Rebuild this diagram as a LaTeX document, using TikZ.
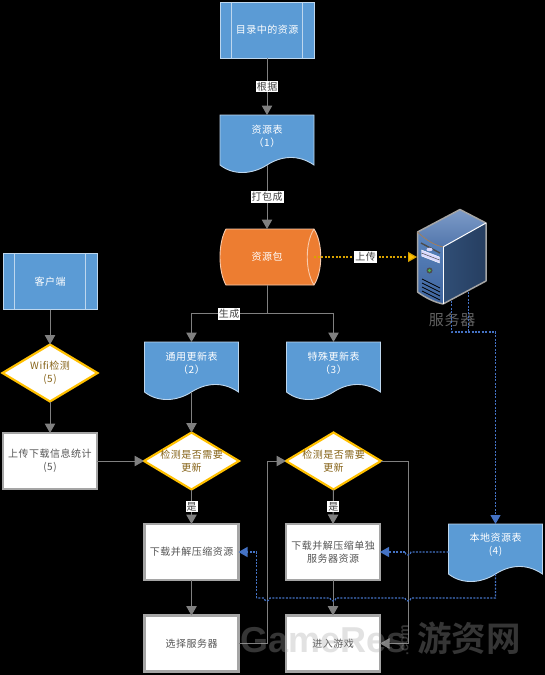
\documentclass[tikz,border=0pt]{standalone}
\usepackage{fontspec}
\setmainfont[LetterSpace=5]{Noto Sans CJK SC}
\newfontfamily\wmcjk{Noto Sans CJK SC Bold}
\newfontfamily\wmlat{Liberation Sans}
\usetikzlibrary{arrows.meta,calc}
\definecolor{fblue}{RGB}{91,155,213}
\definecolor{eblue}{RGB}{190,215,238}
\definecolor{forange}{RGB}{237,125,49}
\definecolor{eorange}{RGB}{248,203,173}
\definecolor{gold}{RGB}{255,192,0}
\definecolor{boxgray}{RGB}{165,165,165}
\definecolor{wire}{RGB}{128,128,128}
\definecolor{dblue}{RGB}{68,114,196}
\definecolor{txtbrown}{RGB}{135,100,25}
\definecolor{txtgray}{RGB}{85,85,85}
\definecolor{srvsideL}{RGB}{48,78,118}
\definecolor{srvsideR}{RGB}{38,62,96}
\definecolor{srvfrontT}{RGB}{92,134,190}
\definecolor{srvfrontB}{RGB}{62,100,158}
\definecolor{srvtopA}{RGB}{125,155,200}
\definecolor{srvtopB}{RGB}{82,118,172}
\tikzset{
  base/.style={inner sep=0pt,outer sep=0pt,align=center,font=\fontsize{10}{13}\selectfont},
  procbox/.style={base,minimum width=94pt,minimum height=56pt,fill=fblue,draw=eblue,line width=0.9pt,text=white},
  whitebox/.style={base,minimum width=94pt,minimum height=56pt,fill=white,draw=boxgray,line width=2.2pt,text=txtgray},
  ghost/.style={base,minimum width=94pt,minimum height=50pt},
  txtw/.style={base,text=white},
  shapefill/.style={fill=fblue,draw=eblue,line width=0.9pt},
  decision/.style={fill=white,draw=gold,line width=2.2pt,line join=miter},
  edgelabel/.style={base,fill=white,text=black!75,inner xsep=1pt,inner ysep=1pt},
  flow/.style={draw=wire,line width=1pt,-{Triangle[length=9.5pt,width=10.5pt,fill=wire]}},
  flowplain/.style={draw=wire,line width=1pt},
  blueflow/.style={draw=dblue,line width=1.2pt,dash pattern=on 2pt off 1.4pt,-{Triangle[length=9pt,width=10pt,fill=dblue]}},
  blueplain/.style={draw=dblue,line width=1.2pt,dash pattern=on 2pt off 1.4pt},
  orangeflow/.style={draw=gold!85!black,line width=1.2pt,dash pattern=on 2pt off 1.6pt,-{Triangle[length=9pt,width=10pt,fill=gold]}},
}
% process with side bars: name, centre x, centre y, text
\newcommand{\sidebox}[4]{%
  \node[procbox] (#1) at (#2,#3) {#4};
  \draw[eblue,line width=0.9pt] ($(#1.north west)+(11.5,0)$) -- ($(#1.south west)+(11.5,0)$);
  \draw[eblue,line width=0.9pt] ($(#1.north east)+(-11.5,0)$) -- ($(#1.south east)+(-11.5,0)$);
}
% document shape: name, centre x, top y, text
\newcommand{\docshape}[4]{%
  \node[ghost] (#1) at (#2,#3+25) {};
  \path[shapefill] (#1.north west) -- (#1.north east) -- (#1.south east)
    .. controls +(-16,-11) and +(14,-9) .. (#1.south)
    .. controls +(-14,9) and +(14,11) .. (#1.south west) -- cycle;
  \node[txtw] (#1-t) at ($(#1.center)+(0,-4)$) {#4};
}
% decision: name, centre x, centre y, text
\newcommand{\decisionnode}[4]{%
  \node[base,minimum width=95pt,minimum height=57pt] (#1) at (#2,#3) {};
  \path[decision] (#1.north) -- (#1.east) -- (#1.south) -- (#1.west) -- cycle;
  \node[base,text=txtbrown] (#1-t) at (#2,#3) {#4};
}
\begin{document}
\begin{tikzpicture}[x=1pt,y=-1pt]
\useasboundingbox (0,0) rectangle (545,675);
\fill[black] (0,0) rectangle (545,675);

% shapes
\sidebox{res}{267}{30}{目录中的资源}
\docshape{tbl}{267}{115}{资源表\\（1）}
\node[base,minimum width=94pt,minimum height=56pt] (pkg) at (267,257) {};
\path[fill=forange,draw=eorange,line width=0.9pt]
  ($(pkg.north west)+(6,0)$) -- (pkg.north east)
  .. controls +(9,14) and +(9,-14) .. (pkg.south east)
  -- ($(pkg.south west)+(6,0)$)
  .. controls +(-8,-14) and +(-8,14) .. ($(pkg.north west)+(6,0)$) -- cycle;
\draw[eorange,line width=0.9pt] (pkg.north east) .. controls +(-9,14) and +(-9,-14) .. (pkg.south east);
\node[txtw] (pkg-t) at (pkg.center) {资源包};

\sidebox{cli}{50}{281.5}{客户端}
\decisionnode{wifi}{50}{373}{Wifi检测\\(5)}
\node[whitebox] (up) at (50,461) {上传下载信息统计\\(5)};

\docshape{gen}{191.5}{342}{通用更新表\\（2）}
\docshape{spe}{333.5}{342}{特殊更新表\\（3）}
\decisionnode{chk}{191.5}{461}{检测是否需要\\更新}
\decisionnode{chs}{333.5}{461}{检测是否需要\\更新}
\node[whitebox] (dl) at (191.5,552) {下载并解压缩资源};
\node[whitebox] (ds) at (333,552) {下载并解压缩单独\\服务器资源};
\node[whitebox] (sel) at (191.5,643.5) {选择服务器};
\node[whitebox] (go) at (333,643.5) {进入游戏};
\docshape{loc}{495.5}{524}{本地资源表\\(4)}

% server
\node[base,minimum width=70pt,minimum height=96pt] (srv) at (452,257) {};
\shade[left color=srvsideL,right color=srvsideR]
  (443,247) -- (486,223) -- (486,281) -- (443,304) -- cycle;
\shade[top color=srvfrontT,bottom color=srvfrontB] (417.5,232) .. controls (426,240) and (434,245) .. (443,247)
  -- (443,304) .. controls (434,302) and (426,298) .. (417.5,292) -- cycle;
\shade[top color=srvtopA,bottom color=srvtopB] (460,209.5) -- (486,223) -- (443,247) .. controls (434,245) and (426,240) .. (417.5,232) -- cycle;
\draw[boxgray,line width=1.5pt,line join=round] (460,209.5) -- (486,223) -- (486,281) -- (443,304)
  .. controls (434,302) and (426,298) .. (417.5,292) -- (417.5,232) -- cycle;
\draw[white,line width=1pt] (443,247) -- (486,223);
\draw[white,line width=1pt] (443,247) -- (443,304);
\draw[brown!70!gray,line width=0.7pt] (417.5,232) .. controls (426,240) and (434,245) .. (443,247);
\draw[black!70,line width=1.4pt] (421,243) -- (440,253);
\fill[white!85!blue] (429.5,249.5) ellipse (3pt and 1.8pt);
\draw[white,fill=white!85!blue,line width=0.4pt] (421.5,250) -- (439.5,257) -- (439.5,263) -- (421.5,256) -- cycle;
\draw[black!70,line width=0.5pt] (421.5,253) -- (439.5,260);
\fill[black!70] (429.5,270.5) circle (3pt);
\fill[green!40!gray] (429.5,270.5) circle (1.6pt);
\foreach \d in {0,1,2,3}{
  \draw[black,line width=0.8pt] (422,{279+\d*4}) -- (440,{288+\d*4});
}
\node[base,font=\fontsize{15}{18}\selectfont,text=black!62] (srv-t) at (452,320) {服务器};

% connectors
\draw[flow] (res) -- node[edgelabel] (l1) {根据} (tbl);
\draw[flow] (tbl.south) -- node[edgelabel] (l2) {打包成} (pkg);
\coordinate (busL) at (191.5,313);
\coordinate (busR) at (333.5,313);
\draw[flowplain] (pkg.south) -- ($(pkg.south)+(0,28)$);
\draw[flow] ($(pkg.south)+(0,28)$) -- (busL) -- (gen.north);
\draw[flow] ($(pkg.south)+(0,28)$) -- (busR) -- (spe.north);
\node[edgelabel] (l3) at (229,314) {生成};
\draw[flow] (cli) -- (wifi.north);
\draw[flow] (wifi.south) -- (up.north);
\draw[flow] (up) -- (chk.west);
\draw[flow] (gen.south) -- (chk.north);
\draw[flow] (chk.south) -- node[edgelabel] (l4) {是} (dl.north);
\draw[flow] (chs.south) -- node[edgelabel] (l5) {是} (ds.north);
\draw[flow] (dl) -- (sel);
\draw[flow] (ds) -- (go);
\coordinate (a1) at (267,643.5);
\coordinate (a2) at (267,461);
\draw[flowplain] (sel.east) -- (a1) -- (a2) -- ($(chs.west)+(-5,0)$);
\draw[flow] ($(chs.west)+(-5,0)$) -- (chs.west);
\coordinate (b1) at (408,461);
\coordinate (b2) at (408,643.5);
\draw[flow] (chs.east) -- (b1) -- (b2) -- (go.east);

\draw[orangeflow] (pkg.east) -- node[edgelabel] (l6) {上传} (srv.west);

% blue dotted
\coordinate (s1) at (451.5,301);
\coordinate (s2) at (468.5,292);
\coordinate (s3) at (451.5,332);
\coordinate (s4) at (468.5,332);
\coordinate (s5) at (495.5,332);
\draw[blueplain] (s2) -- (s4);
\draw[blueflow] (s1) -- (s3) -- (s5) -- (loc.north);
\coordinate (h1r) at (411,552);
\coordinate (h1l) at (405,552);
\draw[blueplain] (loc.west |- h1r) -- (h1r) arc[start angle=0,end angle=-180,radius=3pt];
\draw[blueflow] (h1l) -- (ds.east);
\coordinate (c1) at (495.5,598);
\coordinate (c2) at (411,598);
\coordinate (c4) at (336,598);
\coordinate (c6) at (270,598);
\coordinate (c8) at (256.5,598);
\coordinate (c9) at (256.5,552);
\draw[blueplain] (loc.south) -- (c1) -- (c2) arc[start angle=0,end angle=-180,radius=3pt]
  -- (c4) arc[start angle=0,end angle=-180,radius=3pt]
  -- (c6) arc[start angle=0,end angle=-180,radius=3pt] -- (c8);
\draw[blueflow] (c8) -- (c9) -- (dl.east);

% watermark
\node[base,anchor=west,font=\wmlat\bfseries\fontsize{36}{36}\selectfont,text=boxgray,opacity=0.32] (wm1) at (240,640) {GameRes};
\node[base,rotate=90,font=\wmlat\bfseries\fontsize{13}{13}\selectfont,text=boxgray,opacity=0.32] (wm2) at (405,640) {.com};
\node[base,anchor=west,font=\wmcjk\fontsize{34.5}{35}\selectfont,text=boxgray,opacity=0.32] (wm3) at (417,638) {游资网};
\end{tikzpicture}
\end{document}
